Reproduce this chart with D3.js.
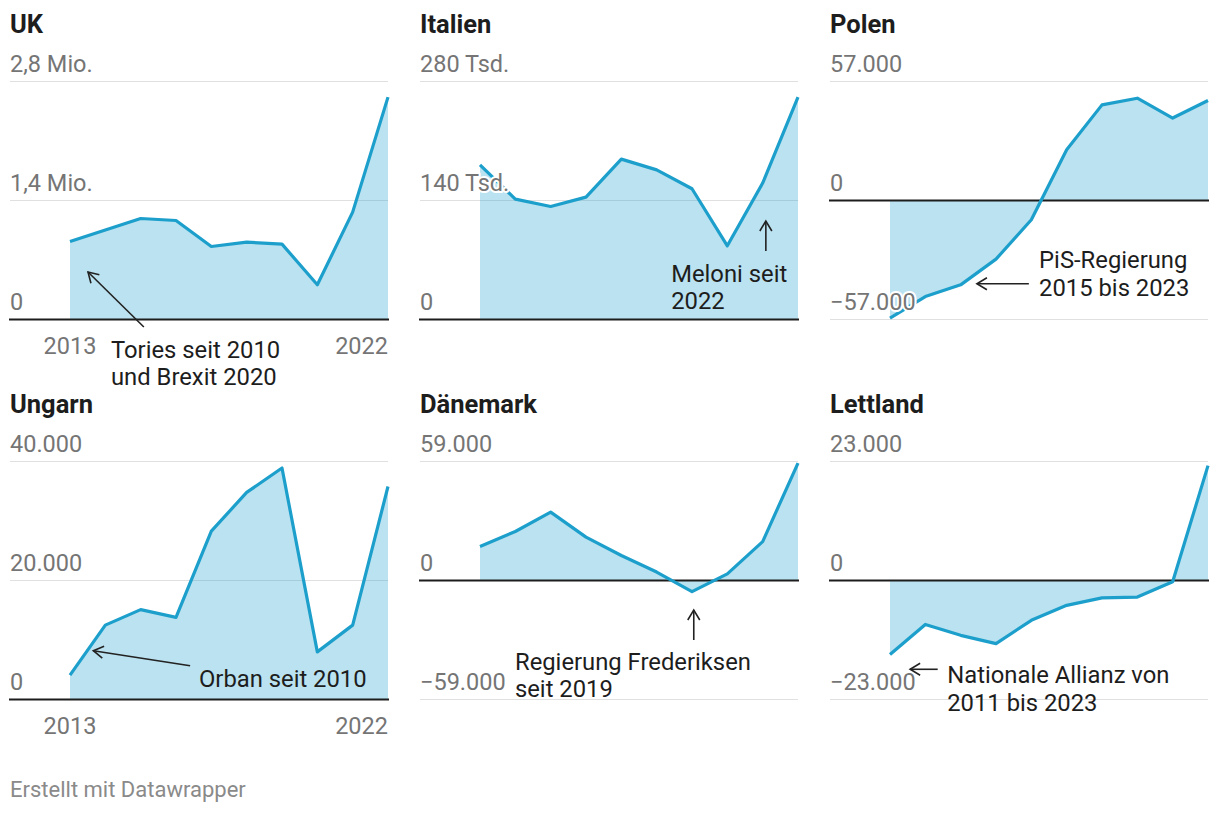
<!DOCTYPE html>
<html><head><meta charset="utf-8">
<script src="https://cdn.jsdelivr.net/npm/d3@7"></script>
<style>
body{margin:0;background:#fff;}
text{font-family:Roboto,"Noto Sans",sans-serif;}
</style></head><body>
<svg id="chart" width="1220" height="816"></svg>
<script>
// ---------- data ----------
const years = [2013,2014,2015,2016,2017,2018,2019,2020,2021,2022];
const countries = ["UK","Italien","Polen","Ungarn","Dänemark","Lettland"];

const ukValues       = [918000,1053000,1188000,1165000,859000,910000,887000,408000,1263000,2616000];
const italienValues  = [182000,141600,133000,144000,188700,176000,153800,86700,160500,261600];
const polenValues    = [-56300,-46000,-40400,-28100,-9200,24300,45800,49000,39500,47900];
const ungarnValues   = [4100,12500,15100,13800,28300,34800,38900,8000,12500,35800];
const daenemarkValues= [16900,24300,33900,21500,12400,4200,-5500,3300,19300,58200];
const lettlandValues = [-14300,-8500,-10600,-12200,-7700,-4800,-3350,-3200,-250,22200];

const ukTicks = [0,1400000,2800000];       const ukTickLabels = ["0","1,4 Mio.","2,8 Mio."];
const italienTicks = [0,140000,280000];    const italienTickLabels = ["0","140 Tsd.","280 Tsd."];
const polenTicks = [-57000,0,57000];       const polenTickLabels = ["−57.000","0","57.000"];
const ungarnTicks = [0,20000,40000];       const ungarnTickLabels = ["0","20.000","40.000"];
const daenemarkTicks = [-59000,0,59000];   const daenemarkTickLabels = ["−59.000","0","59.000"];
const lettlandTicks = [-23000,0,23000];    const lettlandTickLabels = ["−23.000","0","23.000"];

const xTickYears = [2013,2022];

// annotations (anchored in data units: [year, value])
const annotationTexts = [
  ["Tories seit 2010","und Brexit 2020"],
  ["Meloni seit","2022"],
  ["PiS-Regierung","2015 bis 2023"],
  ["Orban seit 2010"],
  ["Regierung Frederiksen","seit 2019"],
  ["Nationale Allianz von","2011 bis 2023"]
];
const annotationTextAt = [[2014.16,-453000],[2018.41,44500],[2017.22,-32500],[2016.65,2050],[2013.99,-44400],[2014.62,-19870]];
const arrowFrom = [[2015.09,-88000],[2021.09,80600],[2016.93,-39850],[2016.40,5680],[2019.05,-29500],[2014.35,-17160]];
const arrowTo   = [[2013.51,558800],[2021.09,115900],[2015.46,-39850],[2013.66,8200],[2019.05,-14630],[2013.57,-17160]];

const footerText = "Erstellt mit Datawrapper";

// ---------- build ----------
const seriesValues = [ukValues,italienValues,polenValues,ungarnValues,daenemarkValues,lettlandValues];
const seriesTicks = [ukTicks,italienTicks,polenTicks,ungarnTicks,daenemarkTicks,lettlandTicks];
const seriesTickLabels = [ukTickLabels,italienTickLabels,polenTickLabels,ungarnTickLabels,daenemarkTickLabels,lettlandTickLabels];

const colLeft = [10,420,830];
const rowTop = [81.5,461.5];
const plotW = 378, plotH = 238, dataInset = 60;
const lineColor = "#1d9fcc";

const svg = d3.select("#chart");
const defs = svg.append("defs");
defs.append("marker").attr("id","arrowhead")
  .attr("viewBox","-12 -8 14 16").attr("refX",0).attr("refY",0)
  .attr("markerWidth",14).attr("markerHeight",16)
  .attr("markerUnits","userSpaceOnUse").attr("orient","auto")
  .append("path").attr("d","M-10,-6L0,0L-10,6")
  .attr("fill","none").attr("stroke","#222").attr("stroke-width",1.6);

countries.forEach((name,i)=>{
  const col = i%3, row = Math.floor(i/3);
  const L = colLeft[col], top = rowTop[row];
  const ticks = seriesTicks[i];
  const vals = seriesValues[i];
  const data = years.map((yr,j)=>({yr, v:vals[j]}));
  const x = d3.scaleLinear().domain([years[0],years[years.length-1]]).range([L+dataInset, L+plotW]);
  const y = d3.scaleLinear().domain(d3.extent(ticks)).range([top+plotH, top]);
  const g = svg.append("g");

  // title
  g.append("text").attr("x",L).attr("y",top-48.5).text(name)
    .attr("font-size",25.5).attr("font-weight",700).attr("fill","#1d1d1d");

  // grid
  ticks.filter(t=>t!==0).forEach(t=>{
    g.append("line").attr("x1",L).attr("x2",L+plotW).attr("y1",y(t)).attr("y2",y(t))
      .attr("stroke","#e0e0e0").attr("stroke-width",1.2);
  });

  // area
  const area = d3.area().x(d=>x(d.yr)).y0(y(0)).y1(d=>y(d.v));
  g.append("path").datum(data).attr("d",area).attr("fill",lineColor).attr("fill-opacity",0.3);

  // zero baseline
  g.append("line").attr("x1",L-1).attr("x2",L+plotW+1).attr("y1",y(0)).attr("y2",y(0))
    .attr("stroke","#1d1d1d").attr("stroke-width",1.8);

  // line
  const line = d3.line().x(d=>x(d.yr)).y(d=>y(d.v));
  g.append("path").datum(data).attr("d",line).attr("fill","none")
    .attr("stroke",lineColor).attr("stroke-width",3.2).attr("stroke-linejoin","round");

  // tick labels
  ticks.forEach((t,k)=>{
    g.append("text").attr("x",L).attr("y",y(t)-10).text(seriesTickLabels[i][k])
      .attr("font-size",23.5).attr("fill","#757575")
      .attr("stroke","#fff").attr("stroke-width",4).attr("paint-order","stroke").attr("stroke-linejoin","round");
  });

  // x labels (first column only)
  if(col===0){
    xTickYears.forEach((yr,k)=>{
      g.append("text").attr("x",k===xTickYears.length-1 ? L+plotW : x(yr))
        .attr("y",y(0)+34.5).text(String(yr))
        .attr("text-anchor",k===xTickYears.length-1 ? "end":"middle")
        .attr("font-size",23.5).attr("fill","#757575");
    });
  }

  // annotation
  g.append("line")
    .attr("x1",x(arrowFrom[i][0])).attr("y1",y(arrowFrom[i][1]))
    .attr("x2",x(arrowTo[i][0])).attr("y2",y(arrowTo[i][1]))
    .attr("stroke","#222").attr("stroke-width",1.6).attr("marker-end","url(#arrowhead)");
  const t = g.append("text").attr("x",x(annotationTextAt[i][0])).attr("y",y(annotationTextAt[i][1]))
    .attr("font-size",23.8).attr("fill","#1d1d1d");
  annotationTexts[i].forEach((s,k)=>{
    t.append("tspan").attr("x",x(annotationTextAt[i][0])).attr("dy",k===0?0:27.3).text(s);
  });
});

svg.append("text").attr("x",10).attr("y",797).text(footerText)
  .attr("font-size",22).attr("fill","#8a8a8a");
</script>
</body></html>
